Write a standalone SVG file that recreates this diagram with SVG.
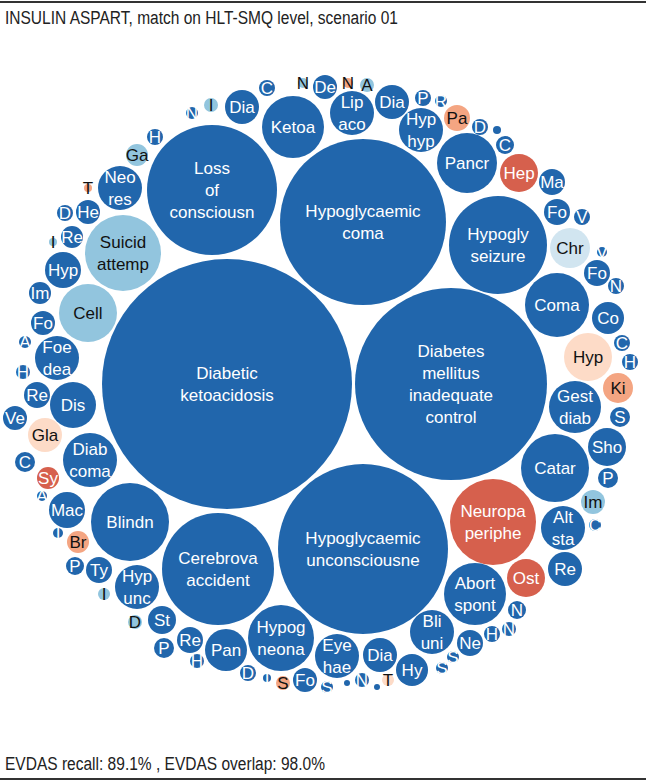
<svg xmlns="http://www.w3.org/2000/svg" width="646" height="781" viewBox="0 0 646 781">
<style>
.b{fill:#2166ac}.r{fill:#d6604d}.p{fill:#f4a582}.lp{fill:#fddbc7}.lb{fill:#92c5de}.vb{fill:#d1e5f0}
text{font-family:"Liberation Sans",Arial,sans-serif;font-size:17px;text-anchor:middle}
.w{fill:#ffffff}.k{fill:#111111}
.hd{font-size:18px;text-anchor:start;fill:#222222}
</style>
<rect width="646" height="781" fill="#ffffff"/>
<line x1="0" y1="2" x2="646" y2="2" stroke="#333" stroke-width="2"/>
<line x1="0" y1="779" x2="646" y2="779" stroke="#333" stroke-width="2"/>
<text class="hd" x="5" y="24" textLength="393" lengthAdjust="spacingAndGlyphs">INSULIN ASPART, match on HLT-SMQ level, scenario 01</text>
<text class="hd" x="5" y="770" textLength="320" lengthAdjust="spacingAndGlyphs">EVDAS recall: 89.1% , EVDAS overlap: 98.0%</text>
<g id="bubbles">
<g id="dka"><circle class="b" cx="227" cy="384" r="125"/><text class="w" x="227" y="379">Diabetic</text><text class="w" x="227" y="401">ketoacidosis</text></g>
<g id="dm"><circle class="b" cx="451" cy="384" r="96"/><text class="w" x="451" y="357">Diabetes</text><text class="w" x="451" y="379">mellitus</text><text class="w" x="451" y="401">inadequate</text><text class="w" x="451" y="423">control</text></g>
<g id="hcoma"><circle class="b" cx="363" cy="222" r="83"/><text class="w" x="363" y="217">Hypoglycaemic</text><text class="w" x="363" y="239">coma</text></g>
<g id="hunc"><circle class="b" cx="363" cy="549" r="85"/><text class="w" x="363" y="544">Hypoglycaemic</text><text class="w" x="363" y="566">unconsciousne</text></g>
<g id="loss"><circle class="b" cx="212" cy="190" r="65"/><text class="w" x="212" y="174">Loss</text><text class="w" x="212" y="196">of</text><text class="w" x="212" y="218">consciousn</text></g>
<g id="cereb"><circle class="b" cx="218" cy="569" r="56"/><text class="w" x="218" y="564">Cerebrova</text><text class="w" x="218" y="586">accident</text></g>
<g id="seiz"><circle class="b" cx="498" cy="245" r="49"/><text class="w" x="498" y="240">Hypogly</text><text class="w" x="498" y="262">seizure</text></g>
<g id="neuro"><circle class="r" cx="493" cy="522" r="43"/><text class="w" x="493" y="517">Neuropa</text><text class="w" x="493" y="539">periphe</text></g>
<g id="blind"><circle class="b" cx="130" cy="522" r="39"/><text class="w" x="130" y="528">Blindn</text></g>
<g id="suicid"><circle class="lb" cx="123" cy="253" r="38"/><text class="k" x="123" y="248">Suicid</text><text class="k" x="123" y="270">attemp</text></g>
<g id="catar"><circle class="b" cx="555" cy="468" r="34"/><text class="w" x="555" y="474">Catar</text></g>
<g id="hneona"><circle class="b" cx="281" cy="638" r="33"/><text class="w" x="281" y="633">Hypog</text><text class="w" x="281" y="655">neona</text></g>
<g id="coma"><circle class="b" cx="557" cy="305" r="32"/><text class="w" x="557" y="311">Coma</text></g>
<g id="ketoa"><circle class="b" cx="293" cy="127" r="31"/><text class="w" x="293" y="133">Ketoa</text></g>
<g id="abort"><circle class="b" cx="475" cy="594" r="31"/><text class="w" x="475" y="589">Abort</text><text class="w" x="475" y="611">spont</text></g>
<g id="pancr"><circle class="b" cx="467" cy="163" r="30"/><text class="w" x="467" y="169">Pancr</text></g>
<g id="cell"><circle class="lb" cx="88" cy="313" r="29"/><text class="k" x="88" y="319">Cell</text></g>
<g id="diabcoma"><circle class="b" cx="90" cy="460" r="27"/><text class="w" x="90" y="455">Diab</text><text class="w" x="90" y="477">coma</text></g>
<g id="gest"><circle class="b" cx="575" cy="407" r="26"/><text class="w" x="575" y="402">Gest</text><text class="w" x="575" y="424">diab</text></g>
<g id="hypr"><circle class="lp" cx="588" cy="357" r="24"/><text class="k" x="588" y="363">Hyp</text></g>
<g id="dis"><circle class="b" cx="73" cy="405" r="23"/><text class="w" x="73" y="411">Dis</text></g>
<g id="neores"><circle class="b" cx="120" cy="188" r="22"/><text class="w" x="120" y="183">Neo</text><text class="w" x="120" y="205">res</text></g>
<g id="foedea"><circle class="b" cx="57" cy="358" r="22"/><text class="w" x="57" y="353">Foe</text><text class="w" x="57" y="375">dea</text></g>
<g id="lipaco"><circle class="b" cx="352" cy="113" r="22"/><text class="w" x="352" y="108">Lip</text><text class="w" x="352" y="130">aco</text></g>
<g id="hyphyp"><circle class="b" cx="421" cy="130" r="22"/><text class="w" x="421" y="125">Hyp</text><text class="w" x="421" y="147">hyp</text></g>
<g id="hypunc"><circle class="b" cx="137" cy="587" r="22"/><text class="w" x="137" y="582">Hyp</text><text class="w" x="137" y="604">unc</text></g>
<g id="eyehae"><circle class="b" cx="337" cy="656" r="22"/><text class="w" x="337" y="651">Eye</text><text class="w" x="337" y="673">hae</text></g>
<g id="bliuni"><circle class="b" cx="432" cy="632" r="22"/><text class="w" x="432" y="627">Bli</text><text class="w" x="432" y="649">uni</text></g>
<g id="altsta"><circle class="b" cx="563" cy="528" r="22"/><text class="w" x="563" y="523">Alt</text><text class="w" x="563" y="545">sta</text></g>
<g id="pan"><circle class="b" cx="226" cy="650" r="21"/><text class="w" x="226" y="656">Pan</text></g>
<g id="chr"><circle class="vb" cx="570" cy="248" r="20"/><text class="k" x="570" y="254">Chr</text></g>
<g id="hep"><circle class="r" cx="519" cy="173" r="19"/><text class="w" x="519" y="179">Hep</text></g>
<g id="ost"><circle class="r" cx="526" cy="578" r="19"/><text class="w" x="526" y="584">Ost</text></g>
<g id="sho"><circle class="b" cx="607" cy="447" r="19"/><text class="w" x="607" y="453">Sho</text></g>
<g id="hypl"><circle class="b" cx="63" cy="270" r="18"/><text class="w" x="63" y="276">Hyp</text></g>
<g id="mac"><circle class="b" cx="67" cy="510" r="18"/><text class="w" x="67" y="516">Mac</text></g>
<g id="dia1"><circle class="b" cx="242" cy="107" r="17"/><text class="w" x="242" y="113">Dia</text></g>
<g id="dia2"><circle class="b" cx="392" cy="102" r="17"/><text class="w" x="392" y="108">Dia</text></g>
<g id="dia3"><circle class="b" cx="380" cy="655" r="17"/><text class="w" x="380" y="661">Dia</text></g>
<g id="gla"><circle class="lp" cx="45" cy="435" r="17"/><text class="k" x="45" y="441">Gla</text></g>
<g id="rer"><circle class="b" cx="565" cy="569" r="17"/><text class="w" x="565" y="575">Re</text></g>
<g id="hy"><circle class="b" cx="412" cy="670" r="16"/><text class="w" x="412" y="676">Hy</text></g>
<g id="co"><circle class="b" cx="608" cy="318" r="16"/><text class="w" x="608" y="324">Co</text></g>
<g id="ki"><circle class="p" cx="618" cy="388" r="15"/><text class="k" x="618" y="394">Ki</text></g>
<g id="st"><circle class="b" cx="162" cy="620" r="14"/><text class="w" x="162" y="626">St</text></g>
<g id="pa"><circle class="p" cx="457" cy="118" r="13"/><text class="k" x="457" y="124">Pa</text></g>
<g id="ma"><circle class="b" cx="552" cy="182" r="13"/><text class="w" x="552" y="188">Ma</text></g>
<g id="fo1"><circle class="b" cx="557" cy="212" r="13"/><text class="w" x="557" y="218">Fo</text></g>
<g id="fo2"><circle class="b" cx="597" cy="273" r="13"/><text class="w" x="597" y="279">Fo</text></g>
<g id="rel"><circle class="b" cx="37" cy="395" r="13"/><text class="w" x="37" y="401">Re</text></g>
<g id="re2"><circle class="b" cx="190" cy="640" r="13"/><text class="w" x="190" y="646">Re</text></g>
<g id="ty"><circle class="b" cx="99" cy="570" r="13"/><text class="w" x="99" y="576">Ty</text></g>
<g id="ne"><circle class="b" cx="470" cy="643" r="13"/><text class="w" x="470" y="649">Ne</text></g>
<g id="de"><circle class="b" cx="325" cy="87" r="12"/><text class="w" x="325" y="93">De</text></g>
<g id="he"><circle class="b" cx="88" cy="212" r="12"/><text class="w" x="88" y="218">He</text></g>
<g id="fo3"><circle class="b" cx="43" cy="323" r="12"/><text class="w" x="43" y="329">Fo</text></g>
<g id="ve"><circle class="b" cx="15" cy="418" r="12"/><text class="w" x="15" y="424">Ve</text></g>
<g id="fo4"><circle class="b" cx="305" cy="680" r="12"/><text class="w" x="305" y="686">Fo</text></g>
<g id="imr"><circle class="lb" cx="593" cy="502" r="12"/><text class="k" x="593" y="508">Im</text></g>
<g id="iml"><circle class="b" cx="40" cy="293" r="11"/><text class="w" x="40" y="299">Im</text></g>
<g id="re3"><circle class="b" cx="72" cy="237" r="11"/><text class="w" x="72" y="243">Re</text></g>
<g id="ga"><circle class="lb" cx="137" cy="155" r="11"/><text class="k" x="137" y="161">Ga</text></g>
<g id="sy"><circle class="r" cx="48" cy="478" r="11"/><text class="w" x="48" y="484">Sy</text></g>
<g id="br"><circle class="p" cx="78" cy="542" r="11"/><text class="k" x="78" y="548">Br</text></g>
<g id="cl"><circle class="b" cx="25" cy="462" r="10"/><text class="w" x="25" y="468">C</text></g>
<g id="sr"><circle class="b" cx="620" cy="417" r="10"/><text class="w" x="620" y="423">S</text></g>
<g id="pr"><circle class="b" cx="608" cy="478" r="10"/><text class="w" x="608" y="484">P</text></g>
<g id="p2"><circle class="b" cx="164" cy="648" r="10"/><text class="w" x="164" y="654">P</text></g>
<g id="n1"><circle class="b" cx="517" cy="610" r="9"/><text class="w" x="517" y="616">N</text></g>
<g id="c2"><circle class="b" cx="505" cy="145" r="9"/><text class="w" x="505" y="151">C</text></g>
<g id="p3"><circle class="b" cx="75" cy="566" r="9"/><text class="w" x="75" y="572">P</text></g>
<g id="ct"><circle class="b" cx="267" cy="88" r="8"/><text class="w" x="267" y="94">C</text></g>
<g id="h1"><circle class="b" cx="155" cy="137" r="8"/><text class="w" x="155" y="143">H</text></g>
<g id="d1"><circle class="b" cx="65" cy="213" r="8"/><text class="w" x="65" y="219">D</text></g>
<g id="pt"><circle class="b" cx="423" cy="98" r="8"/><text class="w" x="423" y="104">P</text></g>
<g id="d2"><circle class="b" cx="480" cy="127" r="8"/><text class="w" x="480" y="133">D</text></g>
<g id="v1"><circle class="b" cx="582" cy="217" r="8"/><text class="w" x="582" y="223">V</text></g>
<g id="nr"><circle class="b" cx="616" cy="286" r="8"/><text class="w" x="616" y="292">N</text></g>
<g id="cr"><circle class="b" cx="622" cy="343" r="8"/><text class="w" x="622" y="349">C</text></g>
<g id="hr"><circle class="b" cx="630" cy="362" r="8"/><text class="w" x="630" y="368">H</text></g>
<g id="h3"><circle class="b" cx="492" cy="634" r="8"/><text class="w" x="492" y="640">H</text></g>
<g id="db"><circle class="b" cx="248" cy="673" r="8"/><text class="w" x="248" y="679">D</text></g>
<g id="a1"><circle class="lb" cx="367" cy="85" r="7"/><text class="k" x="367" y="91">A</text></g>
<g id="i1"><circle class="lb" cx="211" cy="105" r="7"/><text class="k" x="211" y="111">I</text></g>
<g id="hl"><circle class="b" cx="23" cy="372" r="7"/><text class="w" x="23" y="378">H</text></g>
<g id="hb"><circle class="b" cx="197" cy="661" r="7"/><text class="w" x="197" y="667">H</text></g>
<g id="nb"><circle class="b" cx="362" cy="680" r="7"/><text class="w" x="362" y="686">N</text></g>
<g id="n2"><circle class="b" cx="509" cy="629" r="7"/><text class="w" x="509" y="635">N</text></g>
<g id="dl"><circle class="lb" cx="135" cy="622" r="7"/><text class="k" x="135" y="628">D</text></g>
<g id="sp"><circle class="p" cx="283" cy="683" r="7"/><text class="k" x="283" y="689">S</text></g>
<g id="ntl"><circle class="b" cx="192" cy="113" r="6"/><text class="w" x="192" y="119">N</text></g>
<g id="al"><circle class="b" cx="25" cy="342" r="6"/><text class="w" x="25" y="348">A</text></g>
<g id="rt"><circle class="b" cx="441" cy="101" r="6"/><text class="w" x="441" y="107">R</text></g>
<g id="il"><circle class="lb" cx="104" cy="594" r="6"/><text class="k" x="104" y="600">I</text></g>
<g id="tb"><circle class="lp" cx="388" cy="680" r="6"/><text class="k" x="388" y="686">T</text></g>
<g id="s1"><circle class="b" cx="327" cy="687" r="6"/><text class="w" x="327" y="693">S</text></g>
<g id="s2"><circle class="b" cx="453" cy="657" r="6"/><text class="w" x="453" y="663">S</text></g>
<g id="s3"><circle class="b" cx="442" cy="668" r="6"/><text class="w" x="442" y="674">S</text></g>
<g id="crb"><circle class="b" cx="595" cy="525" r="6"/><text class="w" x="595" y="531">C</text></g>
<g id="abl"><circle class="b" cx="42" cy="496" r="5"/><text class="w" x="42" y="502">A</text></g>
<g id="v2"><circle class="b" cx="602" cy="252" r="5"/><text class="w" x="602" y="258">V</text></g>
<g id="it"><circle class="b" cx="58" cy="533" r="5"/><text class="w" x="58" y="539">I</text></g>
<g id="it2"><circle class="b" cx="267" cy="678" r="4"/><text class="w" x="267" y="684">I</text></g>
<g id="ntop"><circle class="lb" cx="303" cy="83" r="5"/><text class="k" x="303" y="89">N</text></g>
<g id="ntop2"><circle class="p" cx="348" cy="83" r="5"/><text class="k" x="348" y="89">N</text></g>
<g id="tt"><circle class="p" cx="88" cy="188" r="4"/><text class="k" x="88" y="194">T</text></g>
<g id="ilt"><circle class="lb" cx="53" cy="242" r="4"/><text class="k" x="53" y="248">I</text></g>
<g id="dot1"><circle class="b" cx="497" cy="130" r="4"/></g>
<g id="dot2"><circle class="b" cx="347" cy="683" r="3"/></g>
<g id="dot3"><circle class="b" cx="377" cy="687" r="3"/></g>
</g>
<g id="connectors"/>
</svg>
